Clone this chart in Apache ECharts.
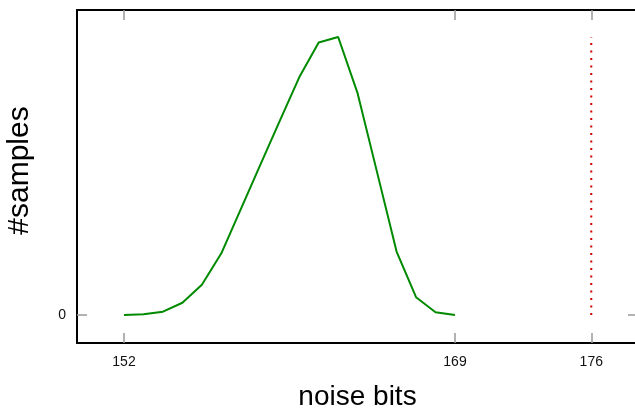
<!DOCTYPE html>
<html>
<head>
<meta charset="utf-8">
<script src="https://cdn.jsdelivr.net/npm/echarts@6/dist/echarts.min.js"></script>
<style>
  html, body { margin: 0; padding: 0; background: #fff; }
  #chart { width: 635px; height: 408px; }
</style>
</head>
<body>
<div id="chart"></div>
<script>
// Dados
const noiseBits = [152, 153, 154, 155, 156, 157, 158, 159, 160, 161, 162, 163, 164, 165, 166, 167, 168, 169];
const samples = [0, 2.5, 12, 44, 109, 222, 381, 540, 698, 855, 980, 1000, 797, 513, 228, 64, 10, 0];
const xTicks = [152, 169, 176];
const yTicks = [0];
const limiteX = 176;
const limiteY = [0, 1000];

const chart = echarts.init(document.getElementById('chart'));

const xMin = 149.586, xMax = 178.40;
const yMin = -100.7, yMax = 1097;

const eixoX = function (mostrar, pos) {
    return {
        type: 'value',
        position: pos,
        min: xMin,
        max: xMax,
        name: mostrar ? 'noise bits' : '',
        nameLocation: 'middle',
        nameGap: 40,
        nameTextStyle: { fontSize: 28, color: '#000', fontFamily: 'Liberation Sans' },
        axisLine: { show: true, onZero: false, lineStyle: { color: '#000', width: 2 } },
        axisTick: { show: true, inside: true, length: 10, customValues: xTicks, lineStyle: { color: '#999', width: 1.5 } },
        axisLabel: { show: mostrar, margin: 12, customValues: xTicks, fontSize: 14, color: '#111', fontFamily: 'Liberation Sans' },
        splitLine: { show: false }
    };
};

const eixoY = function (mostrar, pos) {
    return {
        type: 'value',
        position: pos,
        min: yMin,
        max: yMax,
        name: mostrar ? '#samples' : '',
        nameLocation: 'middle',
        nameGap: 42,
        nameRotate: 90,
        nameTextStyle: { fontSize: 30, color: '#000', fontFamily: 'Liberation Sans', padding: [0, 0, 0, 12] },
        axisLine: { show: true, onZero: false, lineStyle: { color: '#000', width: 2 } },
        axisTick: { show: true, inside: true, length: 10, customValues: yTicks, lineStyle: { color: '#999', width: 1.5 } },
        axisLabel: { show: mostrar, margin: 11, customValues: yTicks, fontSize: 14, color: '#111', fontFamily: 'Liberation Sans' },
        splitLine: { show: false }
    };
};

const option = {
    animation: false,
    grid: { left: 77, top: 10, width: 561, height: 333, containLabel: false, outerBoundsMode: 'none' },
    xAxis: [eixoX(true, 'bottom'), eixoX(false, 'top')],
    yAxis: [eixoY(true, 'left'), eixoY(false, 'right')],
    series: [
        {
            type: 'line',
            data: noiseBits.map((x, i) => [x, samples[i]]),
            symbol: 'none',
            lineStyle: { color: '#008a00', width: 2 },
            z: 3
        },
        {
            type: 'line',
            data: limiteY.map(y => [limiteX, y]),
            symbol: 'none',
            lineStyle: { color: '#d40000', width: 2, type: [2, 5.5] },
            z: 2
        }
    ]
};

chart.setOption(option);
</script>
</body>
</html>
